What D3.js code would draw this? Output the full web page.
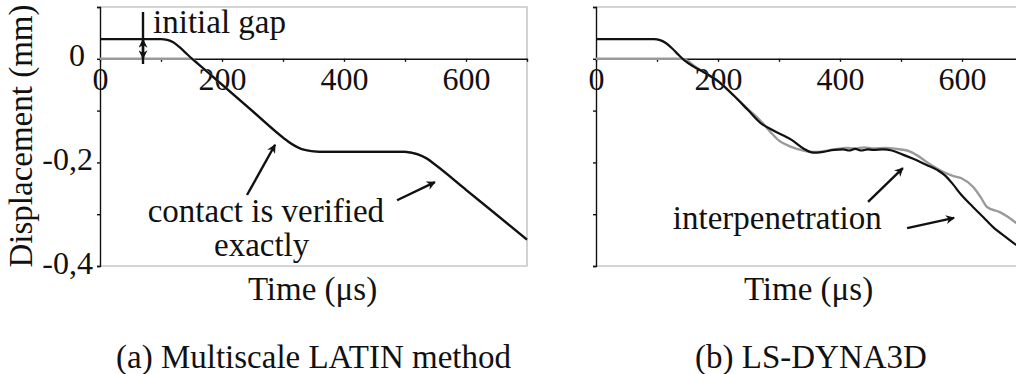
<!DOCTYPE html>
<html>
<head>
<meta charset="utf-8">
<script src="https://cdn.jsdelivr.net/npm/d3@7"></script>
</head>
<body style="margin:0">
<svg id="chart" width="1016" height="374"></svg>
<script>
    // --- data (time in microseconds, displacement in mm) ---
    let timeA = [0, 100, 110, 120, 130, 140, 150, 160, 200, 250, 300, 315, 330, 345, 360, 500, 510, 520, 535, 550, 600, 650, 700];
    let blackA = [0.038, 0.038, 0.0365, 0.032, 0.023, 0.012, 0.001, -0.009, -0.050, -0.101, -0.152, -0.165, -0.174, -0.178, -0.1795,
        -0.1795, -0.181, -0.184, -0.192, -0.205, -0.253, -0.301, -0.349];
    let grayA = [0, 0, 0, 0, 0, 0, 0, -0.009, -0.050, -0.101, -0.152, -0.165, -0.174, -0.178, -0.1795,
        -0.1795, -0.181, -0.184, -0.192, -0.205, -0.253, -0.301, -0.349];

    let timeBlackB = [0, 95, 105, 115, 125, 135, 145, 160, 180, 200, 225, 250, 270, 290, 320, 340, 356, 370, 390, 405, 415, 425, 435,
        445, 455, 470, 485, 503, 520, 542, 560, 572, 585, 597, 618, 635, 651, 674, 690, 700];
    let blackB = [0.038, 0.038, 0.036, 0.030, 0.020, 0.008, -0.003, -0.015, -0.028, -0.043, -0.070, -0.100, -0.124, -0.138, -0.156,
        -0.173, -0.181, -0.180, -0.176, -0.175, -0.177, -0.174, -0.177, -0.175, -0.176, -0.175, -0.177, -0.185, -0.193, -0.205,
        -0.215, -0.225, -0.242, -0.260, -0.286, -0.306, -0.325, -0.346, -0.360, -0.366];

    let timeGrayB = [0, 140, 150, 160, 180, 200, 225, 250, 270, 285, 300, 320, 340, 356, 375, 395, 410, 425, 440, 455, 475, 500,
        515, 526, 542, 569, 585, 600, 618, 630, 641, 662, 675, 689, 700];
    let grayB = [0, 0, -0.004, -0.013, -0.028, -0.043, -0.070, -0.098, -0.120, -0.140, -0.158, -0.170, -0.177, -0.180, -0.178,
        -0.174, -0.172, -0.173, -0.171, -0.173, -0.172, -0.175, -0.179, -0.186, -0.199, -0.218, -0.226, -0.231, -0.247, -0.266,
        -0.286, -0.296, -0.305, -0.317, -0.326];

    let xTicks = [0, 100, 200, 300, 400, 500, 600, 700];
    let xTickLabels = ["0", "", "200", "", "400", "", "600", ""];
    let yTicks = [0.1, 0, -0.1, -0.2, -0.3, -0.4];
    let yTickLabels = ["", "0", "", "-0,2", "", "-0,4"];

    let fontName = "'Liberation Serif'";

    let svg = d3.select("#chart");

    let y = d3.scaleLinear().domain([-0.4, 0.1]).range([266, 7]);
    let xA = d3.scaleLinear().domain([0, 700]).range([100, 527]);
    let xB = d3.scaleLinear().domain([0, 700]).range([596, 1023]);

    svg.append("defs").append("marker")
        .attr("id", "head")
        .attr("markerUnits", "userSpaceOnUse")
        .attr("viewBox", "0 0 10 10")
        .attr("refX", 9).attr("refY", 5)
        .attr("markerWidth", 10).attr("markerHeight", 9)
        .attr("orient", "auto")
        .append("path")
        .attr("d", "M0,0 L10,5 L0,10 L3,5 z")
        .attr("fill", "#111");

    function label(g, x, yy, txt, anchor) {
        return g.append("text")
            .attr("x", x).attr("y", yy)
            .attr("text-anchor", anchor || "start")
            .attr("font-family", fontName)
            .attr("font-size", 33)
            .attr("fill", "#111")
            .text(txt);
    }

    function drawPanel(x, times1, gray, times2, black, showLabels) {
        let g = svg.append("g");

        // light frame on top, right, bottom
        g.append("path")
            .attr("fill", "none")
            .attr("stroke", "#c8c8c8")
            .attr("stroke-width", 1.6)
            .attr("d", "M" + x(0) + "," + y(0.1) + "H" + x(700) + "V" + y(-0.4) + "H" + x(0));

        let yAxis = d3.axisLeft(y)
            .tickValues(yTicks)
            .tickSize(3)
            .tickPadding(4)
            .tickFormat(function(d, i) { return showLabels ? yTickLabels[i] : ""; });

        let ya = g.append("g")
            .attr("transform", "translate(" + x(0) + ",0)")
            .call(yAxis);
        ya.attr("font-family", null).attr("font-size", null);
        ya.selectAll("path, line").attr("stroke", "#111").attr("stroke-width", 1.4);
        ya.selectAll("text")
            .attr("font-family", fontName)
            .attr("font-size", 32)
            .attr("fill", "#111")
            .attr("dy", "0.22em")
            .attr("dx", function(d) { return d === 0 ? -8 : 0; });

        let xAxis = d3.axisBottom(x)
            .tickValues(xTicks)
            .tickSize(3)
            .tickSizeOuter(0)
            .tickFormat(function(d, i) { return xTickLabels[i]; });

        let xa = g.append("g")
            .attr("transform", "translate(0," + y(0) + ")")
            .call(xAxis);
        xa.attr("font-family", null).attr("font-size", null);
        xa.selectAll("path, line").attr("stroke", "#111").attr("stroke-width", 1.4);
        xa.selectAll("text")
            .attr("font-family", fontName)
            .attr("font-size", 32)
            .attr("fill", "#111")
            .attr("y", 31)
            .attr("dy", null);

        let line = d3.line()
            .x(function(d) { return x(d[0]); })
            .y(function(d) { return y(d[1]); })
            .curve(d3.curveMonotoneX);

        g.append("path")
            .datum(d3.zip(times1, gray))
            .attr("fill", "none").attr("stroke", "#9a9a9a").attr("stroke-width", 2.4)
            .attr("d", line);

        g.append("path")
            .datum(d3.zip(times2, black))
            .attr("fill", "none").attr("stroke", "#111").attr("stroke-width", 2.2)
            .attr("d", line);

        label(g, (x(0) + x(700)) / 2 - 1, 300, "Time (\u03bcs)", "middle");

        return g;
    }

    function arrow(g, x, t1, v1, t2, v2, head) {
        let l = g.append("line")
            .attr("stroke", "#111").attr("stroke-width", 2.4)
            .attr("x1", x(t1)).attr("y1", y(v1))
            .attr("x2", x(t2)).attr("y2", y(v2));
        if (head !== false) l.attr("marker-end", "url(#head)");
    }

    // (a) multiscale LATIN
    let pa = drawPanel(xA, timeA, grayA, timeA, blackA, true);
    label(pa, (xA(0) + xA(700)) / 2, 368, "(a) Multiscale LATIN method", "middle");

    // initial gap marker
    arrow(pa, xA, 70.5, 0.0903, 70.5, -0.010, false);
    arrow(pa, xA, 70.5, 0.019, 70.5, 0.037);
    arrow(pa, xA, 70.5, 0.019, 70.5, 0.001);
    label(pa, xA(87), y(0.050), "initial gap");

    label(pa, xA(272), y(-0.315), "contact is verified", "middle");
    label(pa, xA(265), y(-0.381), "exactly", "middle");
    arrow(pa, xA, 241, -0.263, 287, -0.166);
    arrow(pa, xA, 487, -0.273, 549, -0.238);

    // (b) LS-DYNA3D
    let pb = drawPanel(xB, timeGrayB, grayB, timeBlackB, blackB, false);
    label(pb, 811, 368, "(b) LS-DYNA3D", "middle");
    label(pb, xB(126), y(-0.329), "interpenetration");
    arrow(pb, xB, 446, -0.276, 503, -0.211);
    arrow(pb, xB, 510, -0.327, 587, -0.307);

    // y axis title
    label(svg, 0, 0, "Displacement (mm)", "middle")
        .attr("transform", "translate(32,136) rotate(-90)");
</script>
</body>
</html>
